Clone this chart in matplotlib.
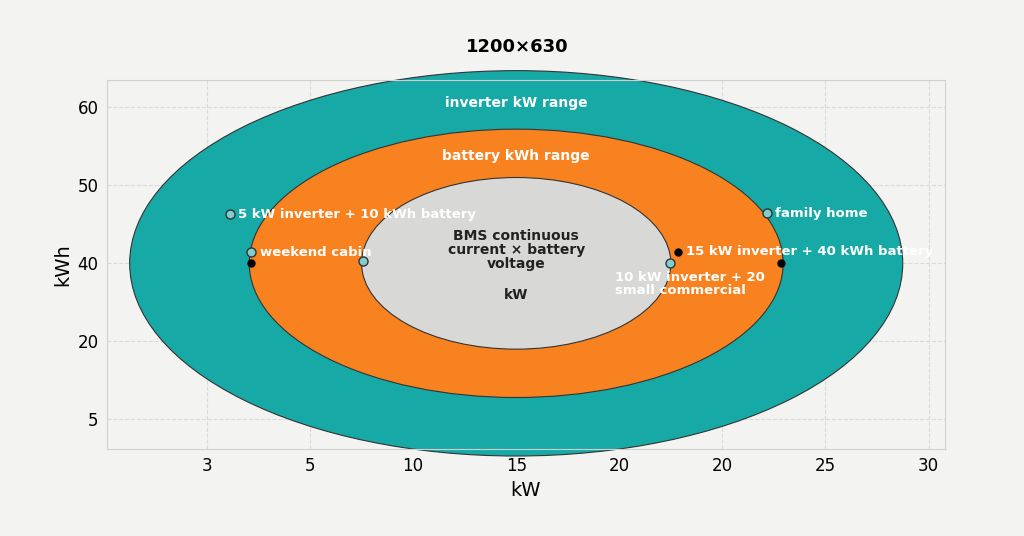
import matplotlib
matplotlib.use("Agg")
import matplotlib.pyplot as plt
from matplotlib.patches import Ellipse

x_ticklabels = ["3", "5", "10", "15", "20", "20", "25", "30"]
y_ticklabels = ["5", "20", "40", "50", "60"]

ring_names = ["inverter kW range", "battery kWh range", "BMS continuous\ncurrent × battery\nvoltage"]
ring_w = [3.75, 2.59, 1.5]
ring_h = [2.47, 1.72, 1.1]
ring_colors = ["#17a9a6", "#f7821f", "#d8d8d6"]
ring_label_y = [5.05, 4.38, 3.17]

pt_x = [1.22, 1.43, 1.43, 2.51, 6.43, 5.57, 5.49, 6.57]
pt_y = [3.63, 3.14, 3.00, 3.03, 3.64, 3.15, 3.00, 3.00]
pt_filled = [False, False, True, False, False, True, False, True]
pt_labels = ["5 kW inverter + 10 kWh battery", "weekend cabin", "", "", "family home",
             "15 kW inverter + 40 kWh battery", "10 kW inverter + 20\nsmall commercial", ""]

fig = plt.figure(figsize=(10.24, 5.36), dpi=100)
fig.patch.set_facecolor("#f3f3f1")
ax = fig.add_axes([107/1024, 1-449/536, (945-107)/1024, (449-80)/536])
ax.set_facecolor("#f3f3f1")
ax.set_xlim(0.03, 8.16)
ax.set_ylim(0.62, 5.35)
ax.grid(True, ls="--", color="#d6dcd6", lw=0.8)
ax.set_axisbelow(True)
for s in ax.spines.values():
    s.set_color("#d0d0d0")

cx, cy = 4, 3
for w, h, c in zip(ring_w, ring_h, ring_colors):
    ax.add_patch(Ellipse((cx, cy), 2*w, 2*h, facecolor=c, edgecolor="#333333", lw=0.8,
                         zorder=2, clip_on=False))
for i, (n, ly) in enumerate(zip(ring_names, ring_label_y)):
    ax.text(cx, ly, n, ha="center", va="center", fontsize=10, zorder=5,
            color="white" if i < 2 else "#222222", fontweight="bold" if i < 2 else "semibold",
            linespacing=1.0)
ax.text(cx, 2.6, "kW", ha="center", va="center", fontsize=10, color="#222222",
        fontweight="semibold", zorder=5)

for x, y, f in zip(pt_x, pt_y, pt_filled):
    if f:
        ax.plot(x, y, "o", ms=5, color="black", zorder=6)
    else:
        ax.plot(x, y, "o", ms=6.5, mfc="#7fcfcf", mec="#333333", mew=1, zorder=6)
for x, y, lab in zip(pt_x, pt_y, pt_labels):
    if not lab:
        continue
    if lab.startswith("10 kW"):
        ax.text(x - 0.53, y - 0.1, lab, ha="left", va="top", fontsize=9.5, color="white",
                fontweight="bold", zorder=7, linespacing=1.0)
    else:
        ax.text(x + 0.08, y, lab, ha="left", va="center", fontsize=9.5, color="white",
                fontweight="bold", zorder=7)

ax.set_xticks(range(1, 9))
ax.set_xticklabels(x_ticklabels, fontsize=12)
ax.set_yticks(range(1, 6))
ax.set_yticklabels(y_ticklabels, fontsize=12)
ax.tick_params(length=0, pad=6)
ax.set_xlabel("kW", fontsize=14)
ax.set_ylabel("kWh", fontsize=14)
fig.text(517/1024, 1-47/536, "1200×630", ha="center", va="center", fontsize=13, fontweight="bold")
fig.savefig("out.png", dpi=100, facecolor=fig.get_facecolor())
